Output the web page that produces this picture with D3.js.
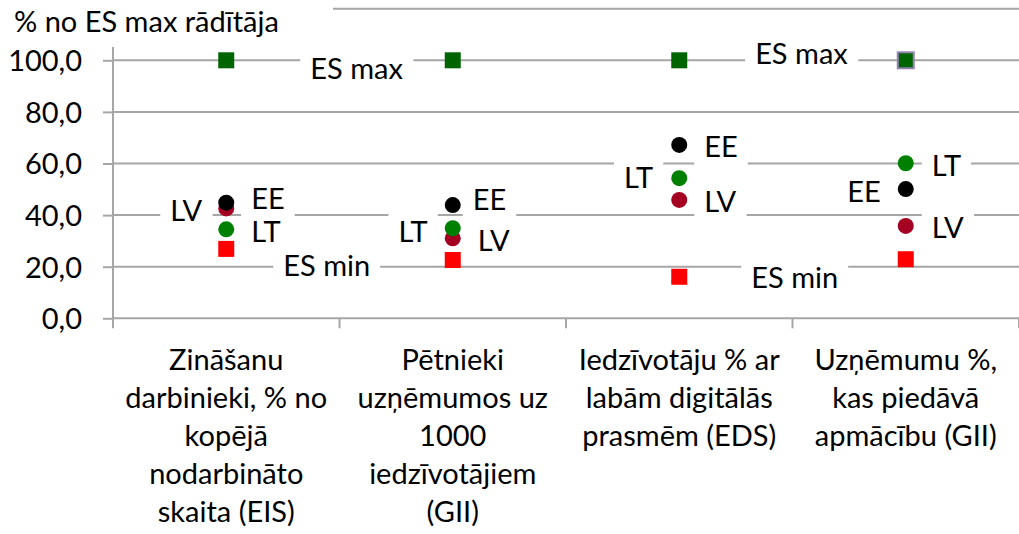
<!DOCTYPE html>
<html>
<head>
<meta charset="utf-8">
<script src="https://cdn.jsdelivr.net/npm/d3@7"></script>
<style>
  html, body { margin: 0; padding: 0; background: #fff; }
  svg { display: block; }
  text { font-family: Lato, "Noto Sans", sans-serif; fill: #000; }
</style>
</head>
<body>
<svg id="chart" width="1019" height="534"></svg>
<script>
// Indicators (x categories), each split into display lines
const categories = [
  ["Zināšanu", "darbinieki, % no", "kopējā", "nodarbināto", "skaita (EIS)"],
  ["Pētnieki", "uzņēmumos uz", "1000", "iedzīvotājiem", "(GII)"],
  ["Iedzīvotāju % ar", "labām digitālās", "prasmēm (EDS)"],
  ["Uzņēmumu %,", "kas piedāvā", "apmācību (GII)"]
];

// Values as % of the EU maximum
const esMax = [100, 100, 100, 100];
const esMin = [26.9, 22.6, 16.1, 22.9];
const lv = [42.6, 31.0, 45.9, 35.8];
const lt = [34.5, 34.9, 54.3, 60.1];
const ee = [44.8, 43.9, 67.2, 50.1];

const yTicks = [0, 20, 40, 60, 80, 100];
const yMax = 120;
const yTitle = "% no ES max rādītāja";

// Series drawing order (later ones sit on top)
const series = [
  { name: "ES max", values: esMax, shape: "square", color: "#006400" },
  { name: "ES min", values: esMin, shape: "square", color: "#ff0000" },
  { name: "LV", values: lv, shape: "circle", color: "#a50021" },
  { name: "LT", values: lt, shape: "circle", color: "#008000" },
  { name: "EE", values: ee, shape: "circle", color: "#000000" }
];

// Data label placement: offset of the text from its marker (px)
const labelPlacement = [
  { s: "ES max", c: 0, dx: 84, dy: 8, anchor: "start" },
  { s: "ES min", c: 0, dx: 57, dy: 17, anchor: "start" },
  { s: "LV", c: 0, dx: -24, dy: 2, anchor: "end" },
  { s: "EE", c: 0, dx: 25, dy: -4, anchor: "start" },
  { s: "LT", c: 0, dx: 25, dy: 2, anchor: "start" },
  { s: "EE", c: 1, dx: 20, dy: -5, anchor: "start" },
  { s: "LT", c: 1, dx: -25, dy: 3, anchor: "end" },
  { s: "LV", c: 1, dx: 25, dy: 2, anchor: "start" },
  { s: "EE", c: 2, dx: 25, dy: 2, anchor: "start" },
  { s: "LT", c: 2, dx: -26, dy: -1, anchor: "end" },
  { s: "LV", c: 2, dx: 25, dy: 2, anchor: "start" },
  { s: "ES min", c: 2, dx: 72, dy: 1, anchor: "start" },
  { s: "ES max", c: 3, dx: -58, dy: -7, anchor: "end" },
  { s: "LT", c: 3, dx: 26, dy: 2, anchor: "start" },
  { s: "EE", c: 3, dx: -25, dy: 3, anchor: "end" },
  { s: "LV", c: 3, dx: 26, dy: 2, anchor: "start" }
];

const FONT = 29;
const GRID = "#a6a6a6";
const plot = { left: 113, right: 1019, top: 8.7, bottom: 318.3 };
const titleBox = { width: 333, height: 47 };

const svg = d3.select("#chart");

const x = d3.scaleBand()
  .domain(d3.range(categories.length))
  .range([plot.left, plot.right])
  .paddingInner(0).paddingOuter(0);

const y = d3.scaleLinear()
  .domain([0, yMax])
  .range([plot.bottom, plot.top]);

const fmt = d3.formatLocale({ decimal: ",", thousands: " ", grouping: [3], currency: ["", ""] }).format(".1f");

// Horizontal gridlines (the top one runs out from behind the axis title)
svg.append("g")
  .selectAll("line")
  .data(yTicks.filter(d => d > 0).concat([yMax]))
  .join("line")
  .attr("x1", d => d === yMax ? titleBox.width : plot.left)
  .attr("x2", plot.right)
  .attr("y1", d => y(d)).attr("y2", d => y(d))
  .attr("stroke", GRID).attr("stroke-width", 2);

// Y axis with tick labels
const yAxis = svg.append("g")
  .attr("transform", `translate(${plot.left},0)`)
  .call(d3.axisLeft(y).tickValues(yTicks).tickFormat(fmt).tickSize(10).tickPadding(21).tickSizeOuter(0));
yAxis.select(".domain")
  .attr("d", `M0,${y(0)}V${titleBox.height}`)
  .attr("stroke", GRID).attr("stroke-width", 2);
yAxis.selectAll(".tick line").attr("stroke", GRID).attr("stroke-width", 2);
yAxis.selectAll(".tick text")
  .attr("font-size", FONT)
  .attr("font-family", "Lato, 'Noto Sans', sans-serif")
  .attr("fill", "#000")
  .attr("dy", "0.36em");

// X axis line and category boundary ticks
const xAxisG = svg.append("g");
xAxisG.append("line")
  .attr("x1", plot.left).attr("x2", plot.right)
  .attr("y1", y(0)).attr("y2", y(0))
  .attr("stroke", GRID).attr("stroke-width", 2);
xAxisG.selectAll("line.tick")
  .data(d3.range(categories.length + 1))
  .join("line")
  .attr("class", "tick")
  .attr("x1", i => i < categories.length ? x(i) : plot.right)
  .attr("x2", i => i < categories.length ? x(i) : plot.right)
  .attr("y1", y(0)).attr("y2", y(0) + 10)
  .attr("stroke", GRID).attr("stroke-width", 2);

// Category labels
const catG = svg.append("g");
categories.forEach((lines, i) => {
  const t = catG.append("text")
    .attr("x", x(i) + x.bandwidth() / 2)
    .attr("y", 370)
    .attr("text-anchor", "middle")
    .attr("font-size", FONT);
  lines.forEach((ln, k) => {
    t.append("tspan")
      .attr("x", x(i) + x.bandwidth() / 2)
      .attr("y", 370 + k * 38)
      .text(ln);
  });
});

// Axis title
svg.append("text")
  .attr("x", 14).attr("y", 31.5)
  .attr("font-size", FONT)
  .text(yTitle);

// Data labels: white backing boxes under the markers, text on top
const seriesByName = new Map(series.map(s => [s.name, s]));
const labelData = labelPlacement.map(p => {
  const s = seriesByName.get(p.s);
  const cx = x(p.c) + x.bandwidth() / 2;
  const cy = y(s.values[p.c]);
  return { text: p.s, x: cx + p.dx, y: cy + p.dy, anchor: p.anchor };
});
const boxG = svg.append("g");
const markG = svg.append("g");
const textG = svg.append("g");

// Markers
series.forEach(s => {
  const g = markG.append("g");
  if (s.shape === "square") {
    const size = 16;
    g.selectAll("rect")
      .data(s.values)
      .join("rect")
      .attr("x", (d, i) => x(i) + x.bandwidth() / 2 - size / 2)
      .attr("y", d => y(d) - size / 2)
      .attr("width", size).attr("height", size)
      .attr("fill", s.color)
      .attr("stroke", (d, i) => (s.name === "ES max" && i === 3) ? "#9683b5" : "none")
      .attr("stroke-width", 2);
  } else {
    g.selectAll("circle")
      .data(s.values)
      .join("circle")
      .attr("cx", (d, i) => x(i) + x.bandwidth() / 2)
      .attr("cy", d => y(d))
      .attr("r", 8)
      .attr("fill", s.color);
  }
});

const texts = textG.selectAll("text")
  .data(labelData)
  .join("text")
  .attr("x", d => d.x)
  .attr("y", d => d.y)
  .attr("dy", "0.36em")
  .attr("text-anchor", d => d.anchor)
  .attr("font-size", FONT)
  .text(d => d.text);

texts.each(function () {
  const b = this.getBBox();
  boxG.append("rect")
    .attr("x", b.x - 10).attr("y", b.y - 2)
    .attr("width", b.width + 20).attr("height", b.height + 4)
    .attr("fill", "#fff");
});
</script>
</body>
</html>
